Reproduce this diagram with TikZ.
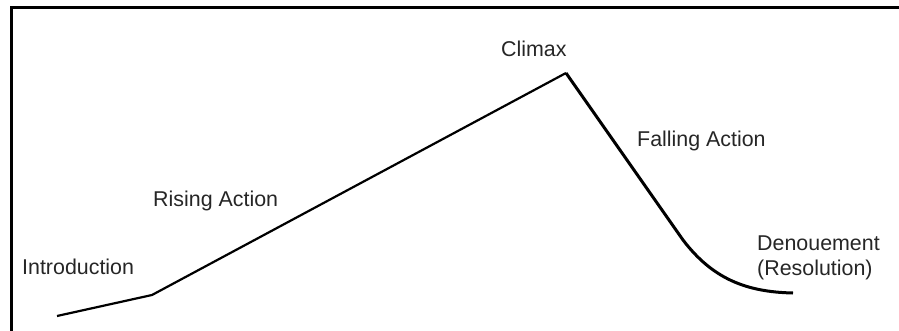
\documentclass[tikz,border=0pt]{standalone}
\usepackage{fontspec}
\setmainfont{Liberation Sans}
\begin{document}
\begin{tikzpicture}[x=1pt,y=-1pt,
  lbl/.style={anchor=base west,inner sep=0pt,font=\fontsize{21.4}{25}\selectfont,text=black!85},
  plotline/.style={line width=2.2pt,line join=miter,line cap=butt},
  frameline/.style={line width=3pt}]
\useasboundingbox (0,0) rectangle (899,331);
\clip (0,0) rectangle (899,331);
\fill[white] (0,0) rectangle (899,331);
% frame
\draw[frameline] (905,8) -- (11.5,8) -- (11.5,340);
% points
\coordinate (start) at (57,316);
\coordinate (kink) at (152,295);
\coordinate (peak) at (566,73);
\coordinate (bend) at (683,240);
\coordinate (end) at (793,293);
\draw[plotline] (start) -- (kink) -- (peak);
\draw[line width=3pt,line join=miter] (peak) -- (bend) .. controls (712,278) and (745,292) .. (end);
% labels
\node[lbl] (intro) at (22,274) {Introduction};
\node[lbl] (rising) at (153,207) {Rising Action};
\node[lbl] (climax) at (501,57) {Climax};
\node[lbl] (falling) at (637,147) {Falling Action};
\node[lbl] (denoue) at (757,250) {Denouement};
\node[lbl] (resol) at (757,275) {(Resolution)};
\end{tikzpicture}
\end{document}
